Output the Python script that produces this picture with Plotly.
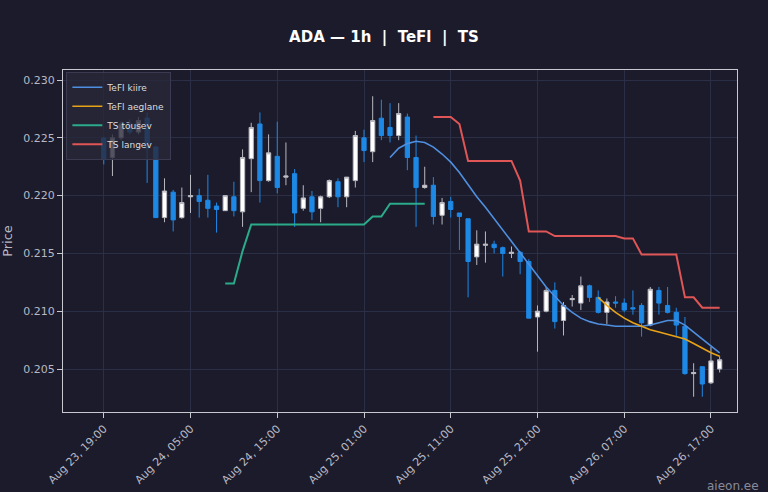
import plotly.graph_objects as go
import pandas as pd

times = pd.date_range("2024-08-23 19:00", periods=72, freq="h")

opens = [0.22498, 0.2233, 0.2250, 0.2262, 0.2255, 0.22671, 0.2242, 0.2181, 0.2203, 0.2181,
         0.2199, 0.2200, 0.2196, 0.2191, 0.2187, 0.2199, 0.2186, 0.2232, 0.2262, 0.2213,
         0.2234, 0.2216, 0.2219, 0.2189, 0.2199, 0.2189, 0.2199, 0.2212, 0.2199, 0.2213,
         0.2250, 0.2238, 0.2267, 0.2259, 0.2252, 0.2268, 0.2233, 0.2207, 0.2209, 0.2183,
         0.2195, 0.2185, 0.2180, 0.2147, 0.2157, 0.2158, 0.2155, 0.2150, 0.2151, 0.2143,
         0.2095, 0.2100, 0.2118, 0.2092, 0.2110, 0.2107, 0.2122, 0.2112, 0.2099, 0.2108,
         0.2107, 0.2103, 0.2105, 0.2088, 0.2118, 0.2105, 0.2099, 0.2087, 0.2046, 0.2052,
         0.2038, 0.2050]
highs = [0.2251, 0.2253, 0.2264, 0.2266, 0.2268, 0.2272, 0.2243, 0.2215, 0.2205, 0.2207,
         0.2218, 0.2206, 0.2218, 0.2194, 0.2200, 0.2212, 0.2240, 0.2263, 0.2272, 0.2253,
         0.2264, 0.2246, 0.2223, 0.2209, 0.2204, 0.2200, 0.2214, 0.2215, 0.2216, 0.2256,
         0.2257, 0.2286, 0.2283, 0.2280, 0.2280, 0.2271, 0.2252, 0.2225, 0.2216, 0.2198,
         0.2199, 0.2185, 0.2180, 0.2170, 0.2169, 0.2161, 0.2156, 0.2156, 0.2152, 0.2145,
         0.2105, 0.2121, 0.2125, 0.2108, 0.2114, 0.2130, 0.2123, 0.2118, 0.2111, 0.2113,
         0.2111, 0.2118, 0.2107, 0.2121, 0.2121, 0.2121, 0.2103, 0.2095, 0.2055, 0.2052,
         0.2069, 0.2061]
lows = [0.2227, 0.2217, 0.2248, 0.2253, 0.2253, 0.2211, 0.2181, 0.2177, 0.2169, 0.2180,
        0.2185, 0.2181, 0.2181, 0.2168, 0.2187, 0.2182, 0.2173, 0.2203, 0.2194, 0.2212,
        0.2202, 0.2209, 0.2173, 0.2187, 0.2179, 0.2177, 0.2198, 0.2190, 0.2190, 0.2207,
        0.2229, 0.2229, 0.2248, 0.2246, 0.2248, 0.2222, 0.2173, 0.2206, 0.2175, 0.2175,
        0.2181, 0.2153, 0.2112, 0.2140, 0.2142, 0.2150, 0.2130, 0.2146, 0.2132, 0.2094,
        0.2065, 0.2099, 0.2085, 0.2079, 0.2104, 0.2101, 0.2108, 0.2098, 0.2089, 0.2103,
        0.2099, 0.2097, 0.2078, 0.2087, 0.2097, 0.2098, 0.2078, 0.2045, 0.2026, 0.2026,
        0.2037, 0.2047]
closes = [0.22317, 0.2250, 0.2262, 0.2255, 0.2265, 0.22412, 0.2181, 0.2204, 0.2179, 0.2194,
          0.2200, 0.2195, 0.2189, 0.2188, 0.2200, 0.2187, 0.2233, 0.2259, 0.2213, 0.2237,
          0.2207, 0.2217, 0.2185, 0.2198, 0.2186, 0.2199, 0.2213, 0.2199, 0.2216, 0.2252,
          0.2239, 0.2265, 0.2252, 0.2252, 0.2271, 0.2233, 0.2207, 0.2209, 0.2182, 0.2194,
          0.2188, 0.2182, 0.2143, 0.2158, 0.2158, 0.2155, 0.2150, 0.2151, 0.2143, 0.2094,
          0.2100, 0.2118, 0.2091, 0.2105, 0.2111, 0.2122, 0.2112, 0.2099, 0.2108, 0.2107,
          0.2101, 0.2102, 0.2090, 0.2119, 0.2107, 0.2099, 0.2088, 0.2046, 0.2047, 0.2037,
          0.2057, 0.2058]

N = None
ts_up = [N] * 14 + [0.2124, 0.2124, 0.2152] + [0.2175] * 14 + [0.2182, 0.2182] + [0.2193] * 5 + [N] * 34
ts_down = ([N] * 38 + [0.2268, 0.2268, 0.2268, 0.2262] + [0.2230] * 6 + [0.2213]
           + [0.2169] * 3 + [0.2165] * 8 + [0.2163, 0.2163] + [0.2149] * 5
           + [0.2112, 0.2112, 0.2103, 0.2103, 0.2103])
tefl_fast = [N] * 33 + [0.2233, 0.2241, 0.2245, 0.2247, 0.2246, 0.2242, 0.2236, 0.2229, 0.2220,
                        0.2209, 0.2199, 0.2190, 0.2180, 0.2170, 0.2160, 0.2150, 0.2140, 0.2130,
                        0.2121, 0.2113, 0.2105, 0.2099, 0.2094, 0.2091, 0.2089, 0.2088, 0.2087,
                        0.2087, 0.2087, 0.2087, 0.2088, 0.2090, 0.2092, 0.2092, 0.2088, 0.2082,
                        0.2076, 0.2070, 0.2064]
tefl_slow = [N] * 57 + [0.2112, 0.2105, 0.2099, 0.2094, 0.2090, 0.2087, 0.2084, 0.2082, 0.2080,
                        0.2078, 0.2076, 0.2072, 0.2068, 0.2064, 0.2061]

bg = "#1b1b2b"
fig = go.Figure()
fig.add_trace(go.Candlestick(
    x=times, open=opens, high=highs, low=lows, close=closes, showlegend=False,
    increasing=dict(line=dict(color="#b8b8c0", width=1), fillcolor="#ffffff"),
    decreasing=dict(line=dict(color="#1e88e5", width=1), fillcolor="#1e88e5"),
    whiskerwidth=0, name="ADA"))
fig.add_trace(go.Scatter(x=times, y=tefl_fast, mode="lines", name="TeFl kiire",
                         line=dict(color="#4f8fe0", width=1.6)))
fig.add_trace(go.Scatter(x=times, y=tefl_slow, mode="lines", name="TeFl aeglane",
                         line=dict(color="#e8a317", width=1.6)))
fig.add_trace(go.Scatter(x=times, y=ts_up, mode="lines", name="TS tõusev",
                         line=dict(color="#2bab8a", width=2)))
fig.add_trace(go.Scatter(x=times, y=ts_down, mode="lines", name="TS langev",
                         line=dict(color="#e05555", width=2)))

fig.update_layout(
    width=768, height=492, paper_bgcolor=bg, plot_bgcolor=bg,
    margin=dict(l=63, r=31, t=70, b=80),
    title=dict(text="<b>ADA — 1h  |  TeFl  |  TS</b>", x=0.5, y=0.935,
               font=dict(color="#ffffff", size=15, family="DejaVu Sans")),
    font=dict(color="#b8b8c4", family="DejaVu Sans", size=11),
    legend=dict(x=0.005, y=0.995, xanchor="left", yanchor="top",
                bgcolor="rgba(40,40,58,0.8)", bordercolor="#3a3a50", borderwidth=1,
                font=dict(size=9, color="#dddddd")),
    xaxis=dict(rangeslider=dict(visible=False), type="date", automargin=False,
               range=[times[0] - pd.Timedelta(hours=4.7), times[0] + pd.Timedelta(hours=73)],
               tick0=times[0], dtick=10 * 3600 * 1000, tickformat="%b %d, %H:%M",
               tickangle=-45, gridcolor="#2a2f45", showline=True, linecolor="#c8c8d0",
               mirror=True, ticks="outside", tickcolor="#c8c8d0", zeroline=False),
    yaxis=dict(range=[0.20128, 0.23087], dtick=0.005, tickformat=".3f", automargin=False,
               title=dict(text="Price", standoff=10), gridcolor="#2a2f45", showline=True,
               linecolor="#c8c8d0", mirror=True, ticks="outside", tickcolor="#c8c8d0",
               zeroline=False),
    annotations=[dict(text="aieon.ee", xref="paper", yref="paper", x=1.035, y=-0.19,
                      xanchor="right", yanchor="top", showarrow=False,
                      font=dict(color="#8a8a9a", size=12))],
)
fig.write_html("out.html", config={"displayModeBar": False},
               post_script="document.body.style.margin='0';document.body.style.background='%s';" % bg)
